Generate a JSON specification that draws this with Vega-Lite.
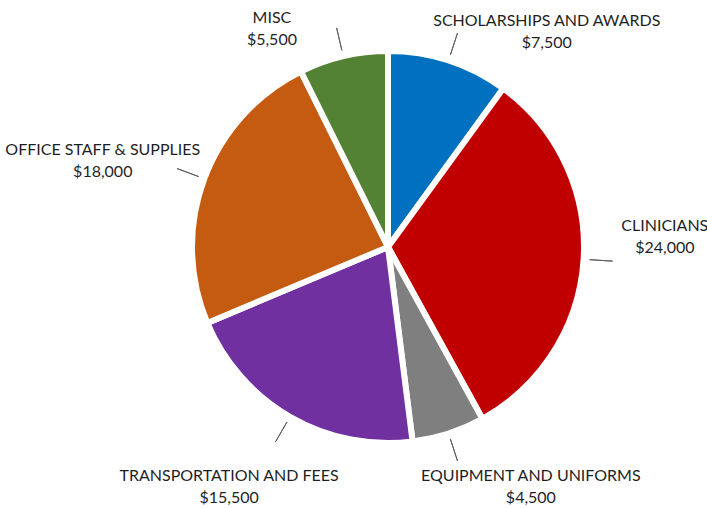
{
  "$schema": "https://vega.github.io/schema/vega-lite/v6.json",
  "description": "Budget split as an exploded pie with outside labels.",
  "width": 600,
  "height": 494,
  "autosize": {"type": "none"},
  "padding": {"left": 88, "top": 0, "right": 19, "bottom": 14},
  "background": "white",
  "data": {
    "values": [
      {"category": "SCHOLARSHIPS AND AWARDS", "amount": 7500, "order": 1},
      {"category": "CLINICIANS", "amount": 24000, "order": 2},
      {"category": "EQUIPMENT AND UNIFORMS", "amount": 4500, "order": 3},
      {"category": "TRANSPORTATION AND FEES", "amount": 15500, "order": 4},
      {"category": "OFFICE STAFF & SUPPLIES", "amount": 18000, "order": 5},
      {"category": "MISC", "amount": 5500, "order": 6}
    ]
  },
  "layer": [
    {
      "mark": {"type": "arc", "radius": 196, "stroke": "white", "strokeWidth": 6, "strokeJoin": "round"},
      "encoding": {
        "theta": {"field": "amount", "type": "quantitative", "stack": true},
        "order": {"field": "order", "type": "quantitative"},
        "color": {
          "field": "category",
          "type": "nominal",
          "legend": null,
          "scale": {
            "domain": ["SCHOLARSHIPS AND AWARDS", "CLINICIANS", "EQUIPMENT AND UNIFORMS", "TRANSPORTATION AND FEES", "OFFICE STAFF & SUPPLIES", "MISC"],
            "range": ["#0070C0", "#C00000", "#7F7F7F", "#7030A0", "#C55A11", "#548235"]
          }
        }
      }
    },
    {
      "mark": {"type": "arc", "innerRadius": 202, "outerRadius": 225, "padAngle": 3, "filled": false, "stroke": "#5f5f5f", "strokeWidth": 1},
      "encoding": {
        "theta": {"field": "amount", "type": "quantitative", "stack": true},
        "order": {"field": "order", "type": "quantitative"},
        "detail": {"field": "category", "type": "nominal"}
      }
    },
    {
      "mark": {"type": "text", "baseline": "middle", "align": "center", "dy": -11, "fontSize": 16, "color": "#1f1f1f"},
      "encoding": {
        "theta": {
          "field": "amount", "type": "quantitative", "stack": null,
          "scale": {"type": "linear", "zero": false, "nice": false, "domain": [4500, 5500, 7500, 15500, 18000, 24000], "range": [2.604, 5.794, 0.637, 3.726, 5.006, 1.534]}
        },
        "radius": {
          "field": "amount", "type": "quantitative", "stack": null,
          "scale": {"type": "linear", "zero": false, "nice": false, "domain": [4500, 5500, 7500, 15500, 18000, 24000], "range": [279, 247, 267, 288, 298, 277]}
        },
        "text": {"field": "category", "type": "nominal"}
      }
    },
    {
      "mark": {"type": "text", "baseline": "middle", "align": "center", "dy": 11, "fontSize": 16, "color": "#1f1f1f"},
      "encoding": {
        "theta": {
          "field": "amount", "type": "quantitative", "stack": null,
          "scale": {"type": "linear", "zero": false, "nice": false, "domain": [4500, 5500, 7500, 15500, 18000, 24000], "range": [2.604, 5.794, 0.637, 3.726, 5.006, 1.534]}
        },
        "radius": {
          "field": "amount", "type": "quantitative", "stack": null,
          "scale": {"type": "linear", "zero": false, "nice": false, "domain": [4500, 5500, 7500, 15500, 18000, 24000], "range": [279, 247, 267, 288, 298, 277]}
        },
        "text": {"field": "amount", "type": "quantitative", "format": "$,"}
      }
    }
  ],
  "resolve": {"scale": {"theta": "independent", "radius": "independent"}},
  "config": {"view": {"stroke": null}, "text": {"font": "Lato"}}
}
